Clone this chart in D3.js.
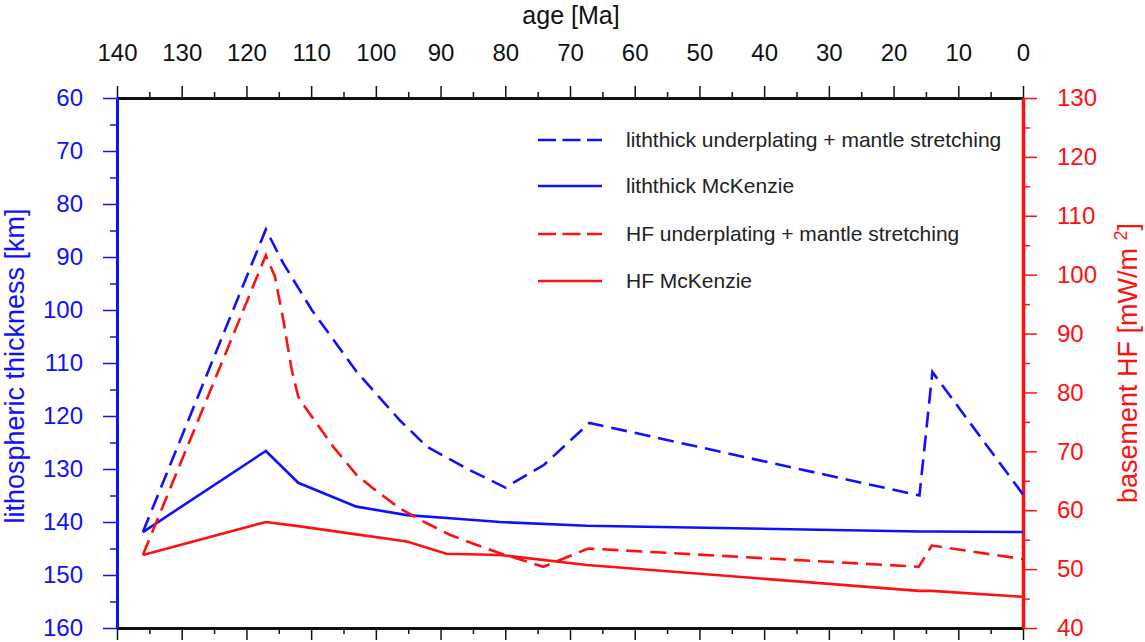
<!DOCTYPE html>
<html>
<head>
<meta charset="utf-8">
<script src="https://cdn.jsdelivr.net/npm/d3@7/dist/d3.min.js"></script>
<style>
  html, body { margin: 0; padding: 0; background: #fff; }
  svg { display: block; font-family: "Liberation Sans", Arial, sans-serif; }
</style>
</head>
<body>
<svg id="chart" width="1145" height="642"></svg>
<script>
// Model ages [Ma] and results for each scenario
const ageLithUnder = [136, 117, 114.3, 109.9, 103, 96.3, 92.1, 85.5, 80, 74, 67, 16, 14, 0];
const lithUnder    = [141.9, 84.8, 91.2, 100.0, 111.6, 120.8, 125.8, 130.2, 133.5, 129.2, 121.3, 135.0, 111.7, 134.8];

const ageLithMcK = [136, 117, 112, 103, 95.2, 88.5, 80.8, 67.4, 16, 14, 0];
const lithMcK    = [141.9, 126.6, 132.6, 137.1, 138.7, 139.3, 140.0, 140.7, 141.8, 141.8, 141.9];

const ageHFUnder = [136, 117, 115.6, 114.3, 113, 112, 111, 106.6, 103, 100.4, 96.3, 92.7, 88.5, 84.4, 80.8, 74.1, 67.2, 16.1, 14.1, 0];
const hfUnder    = [52.4, 103.3, 99.7, 92.3, 83.8, 79.3, 77.6, 70.8, 66.0, 63.7, 60.3, 58.1, 55.8, 54.1, 52.7, 50.4, 53.5, 50.4, 54.0, 51.7];

const ageHFMcK = [136, 117, 112, 103, 95.2, 89.1, 80.8, 67.4, 16.1, 14.1, 0];
const hfMcK    = [52.4, 58.0, 57.3, 55.9, 54.7, 52.6, 52.4, 50.7, 46.3, 46.3, 45.3];

const legendLabels = [
  "liththick underplating + mantle stretching",
  "liththick McKenzie",
  "HF underplating + mantle stretching",
  "HF McKenzie"
];

const ageTicks   = d3.range(0, 141, 10);
const ageMinor   = d3.range(5, 140, 10);
const thickTicks = d3.range(60, 161, 10);
const thickMinor = d3.range(65, 160, 10);
const hfTicks    = d3.range(40, 131, 10);
const hfMinor    = d3.range(45, 130, 10);

const BLUE = "#1010ff", RED = "#ff1010", INK = "#111";

const svg = d3.select("#chart");
const plotL = 117, plotR = 1023, plotT = 98, plotB = 628;

const x  = d3.scaleLinear().domain([140, 0]).range([plotL, plotR]);
const yL = d3.scaleLinear().domain([60, 160]).range([plotT, plotB]);
const yR = d3.scaleLinear().domain([130, 40]).range([plotT, plotB]);

function styleAxis(g, color, width) {
  g.select(".domain").attr("stroke", color).attr("stroke-width", width);
  g.selectAll(".tick line").attr("stroke", color).attr("stroke-width", 1.5);
  g.selectAll(".tick text").attr("fill", color).style("font-size", "24px")
    .style("font-family", '"Liberation Sans", Arial, sans-serif');
}

// minor ticks (no labels)
function minor(axisFn, scale, vals, size, transform, color) {
  svg.append("g").attr("transform", transform)
    .call(axisFn(scale).tickValues(vals).tickSize(size).tickFormat(""))
    .call(g => { g.select(".domain").remove(); g.selectAll(".tick line").attr("stroke", color).attr("stroke-width", 1.5); });
}

minor(d3.axisTop, x, ageMinor, 6, `translate(0,${plotT})`, INK);
minor(d3.axisBottom, x, ageMinor, 6, `translate(0,${plotB})`, INK);
minor(d3.axisLeft, yL, thickMinor, 7, `translate(${plotL},0)`, BLUE);
minor(d3.axisRight, yR, hfMinor, 7, `translate(${plotR},0)`, RED);

// top age axis
svg.append("g").attr("transform", `translate(0,${plotT})`)
  .call(d3.axisTop(x).tickValues(ageTicks).tickSize(12).tickSizeOuter(0).tickPadding(25).tickFormat(d3.format("d")))
  .call(g => styleAxis(g, INK, 3));

// bottom frame with ticks
svg.append("g").attr("transform", `translate(0,${plotB})`)
  .call(d3.axisBottom(x).tickValues(ageTicks).tickSize(12).tickSizeOuter(0).tickFormat(""))
  .call(g => styleAxis(g, INK, 3));

// left lithosphere axis
svg.append("g").attr("transform", `translate(${plotL},0)`)
  .call(d3.axisLeft(yL).tickValues(thickTicks).tickSize(14).tickSizeOuter(0).tickPadding(20))
  .call(g => styleAxis(g, BLUE, 3));

// right heat-flow axis
svg.append("g").attr("transform", `translate(${plotR},0)`)
  .call(d3.axisRight(yR).tickValues(hfTicks).tickSize(14).tickSizeOuter(0).tickPadding(20))
  .call(g => styleAxis(g, RED, 3.5));

// axis titles
svg.append("text").attr("x", 571).attr("y", 24).attr("text-anchor", "middle")
  .attr("fill", INK).style("font-size", "25px").text("age [Ma]");

svg.append("text").attr("transform", `translate(24,366) rotate(-90)`)
  .attr("text-anchor", "middle").attr("fill", BLUE).style("font-size", "27px")
  .text("lithospheric thickness [km]");

const rt = svg.append("text").attr("transform", `translate(1137,363) rotate(-90)`)
  .attr("text-anchor", "middle").attr("fill", RED).style("font-size", "27px");
rt.append("tspan").text("basement HF [mW/m ");
rt.append("tspan").attr("dy", -10).style("font-size", "18px").text("2");
rt.append("tspan").attr("dy", 10).text("]");

// data lines
const series = [
  { ages: ageLithUnder, vals: lithUnder, y: yL, color: BLUE, dash: "16,8" },
  { ages: ageLithMcK,   vals: lithMcK,   y: yL, color: BLUE, dash: null },
  { ages: ageHFUnder,   vals: hfUnder,   y: yR, color: RED,  dash: "16,8" },
  { ages: ageHFMcK,     vals: hfMcK,     y: yR, color: RED,  dash: null }
];

series.forEach(s => {
  const line = d3.line().x((d, i) => x(s.ages[i])).y(d => s.y(d));
  svg.append("path").datum(s.vals)
    .attr("d", line).attr("fill", "none")
    .attr("stroke", s.color).attr("stroke-width", 2.6)
    .attr("stroke-linejoin", "miter")
    .attr("stroke-dasharray", s.dash);
});

// legend
const legY = [140, 186, 234, 281];
series.forEach((s, i) => {
  svg.append("line").attr("x1", 538).attr("x2", 602).attr("y1", legY[i]).attr("y2", legY[i])
    .attr("stroke", s.color).attr("stroke-width", 2.6)
    .attr("stroke-dasharray", s.dash ? "18,6.5" : null);
  svg.append("text").attr("x", 626).attr("y", legY[i] + 7).attr("fill", "#222")
    .style("font-size", "21px").text(legendLabels[i]);
});
</script>
</body>
</html>
